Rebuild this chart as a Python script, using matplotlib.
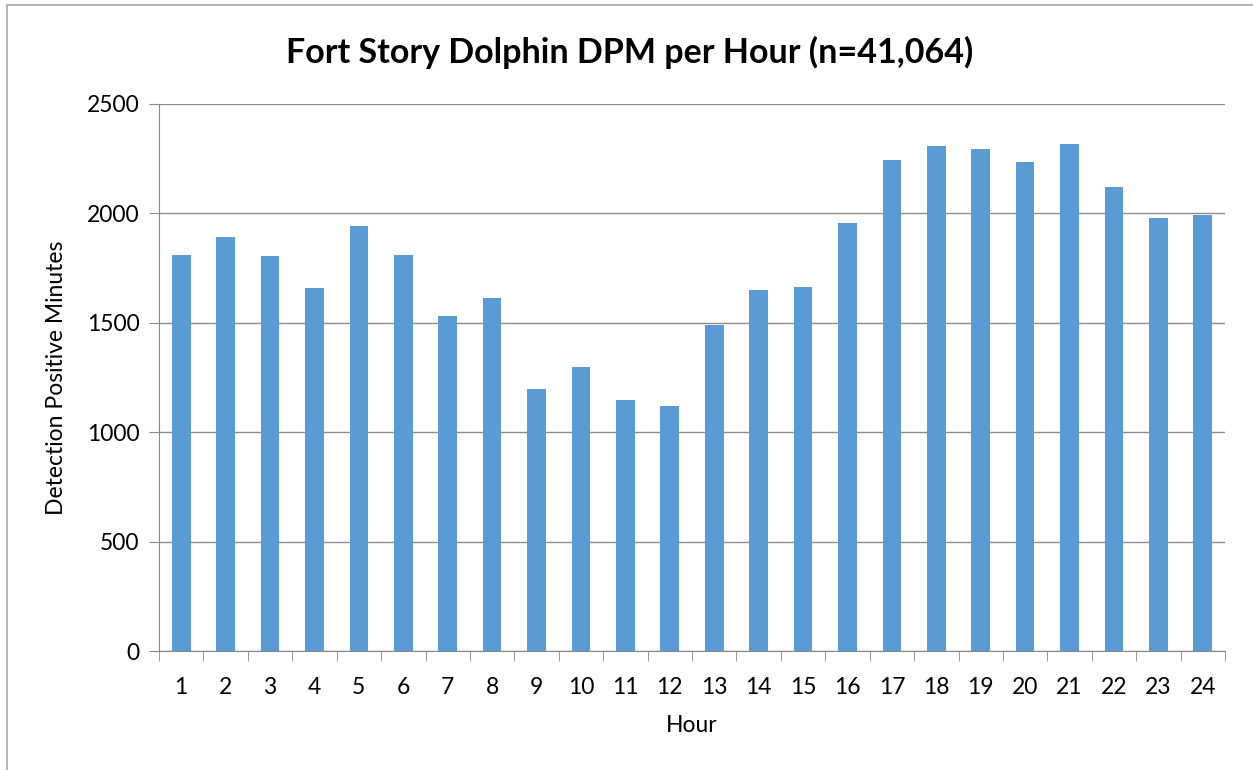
import matplotlib.pyplot as plt
from matplotlib.patches import Rectangle

hours = [str(h) for h in range(1, 25)]
dpm = [1810, 1890, 1804, 1659, 1943, 1810, 1531, 1615, 1196, 1297, 1147, 1122,
       1489, 1650, 1662, 1954, 2246, 2306, 2295, 2237, 2317, 2122, 1980, 1992]
yticks = [0, 500, 1000, 1500, 2000, 2500]

plt.rcParams['font.family'] = ['Lato', 'DejaVu Sans']

fig = plt.figure(figsize=(12.53, 7.7), dpi=100)
ax = fig.add_axes([159 / 1253, 1 - 651 / 770, (1225 - 159) / 1253, (651 - 104) / 770])

x = range(len(hours))
ax.bar(x, dpm, width=0.42, color='#5B9BD5', zorder=3)

ax.set_xlim(-0.5, len(hours) - 0.5)
ax.set_ylim(0, 2500)
ax.set_yticks(yticks)
ax.set_yticklabels([str(v) for v in yticks], fontsize=16.5)
ax.set_xticks(list(x))
ax.set_xticklabels(hours, fontsize=16.5)

# category boundary ticks like excel
ax.set_xticks([i - 0.5 for i in range(len(hours) + 1)], minor=True)
ax.tick_params(axis='x', which='major', length=0, pad=19)
ax.tick_params(axis='x', which='minor', length=7, color='#888888', direction='out')
ax.tick_params(axis='y', length=7, color='#888888', direction='out', pad=7)

ax.grid(axis='y', color='#8c8c8c', linewidth=1, zorder=0)
for side in ['top', 'right']:
    ax.spines[side].set_visible(False)
ax.spines['left'].set_color('#888888')
ax.spines['bottom'].set_color('#888888')

ax.set_xlabel('Hour', fontsize=16.5, labelpad=12)
ax.set_ylabel('Detection Positive Minutes', fontsize=16.5, labelpad=14)
fig.text(630 / 1253, 1 - 52 / 770, 'Fort Story Dolphin DPM per Hour (n=41,064)',
         ha='center', va='center', fontsize=24.5, fontweight='bold')

fig.patches.append(Rectangle((7 / 1253, -0.1), 1.2, 1 - 5 / 770 + 0.1,
                             transform=fig.transFigure, fill=False,
                             edgecolor='#a6a6a6', linewidth=1.2))

fig.savefig('out.png', dpi=100)
